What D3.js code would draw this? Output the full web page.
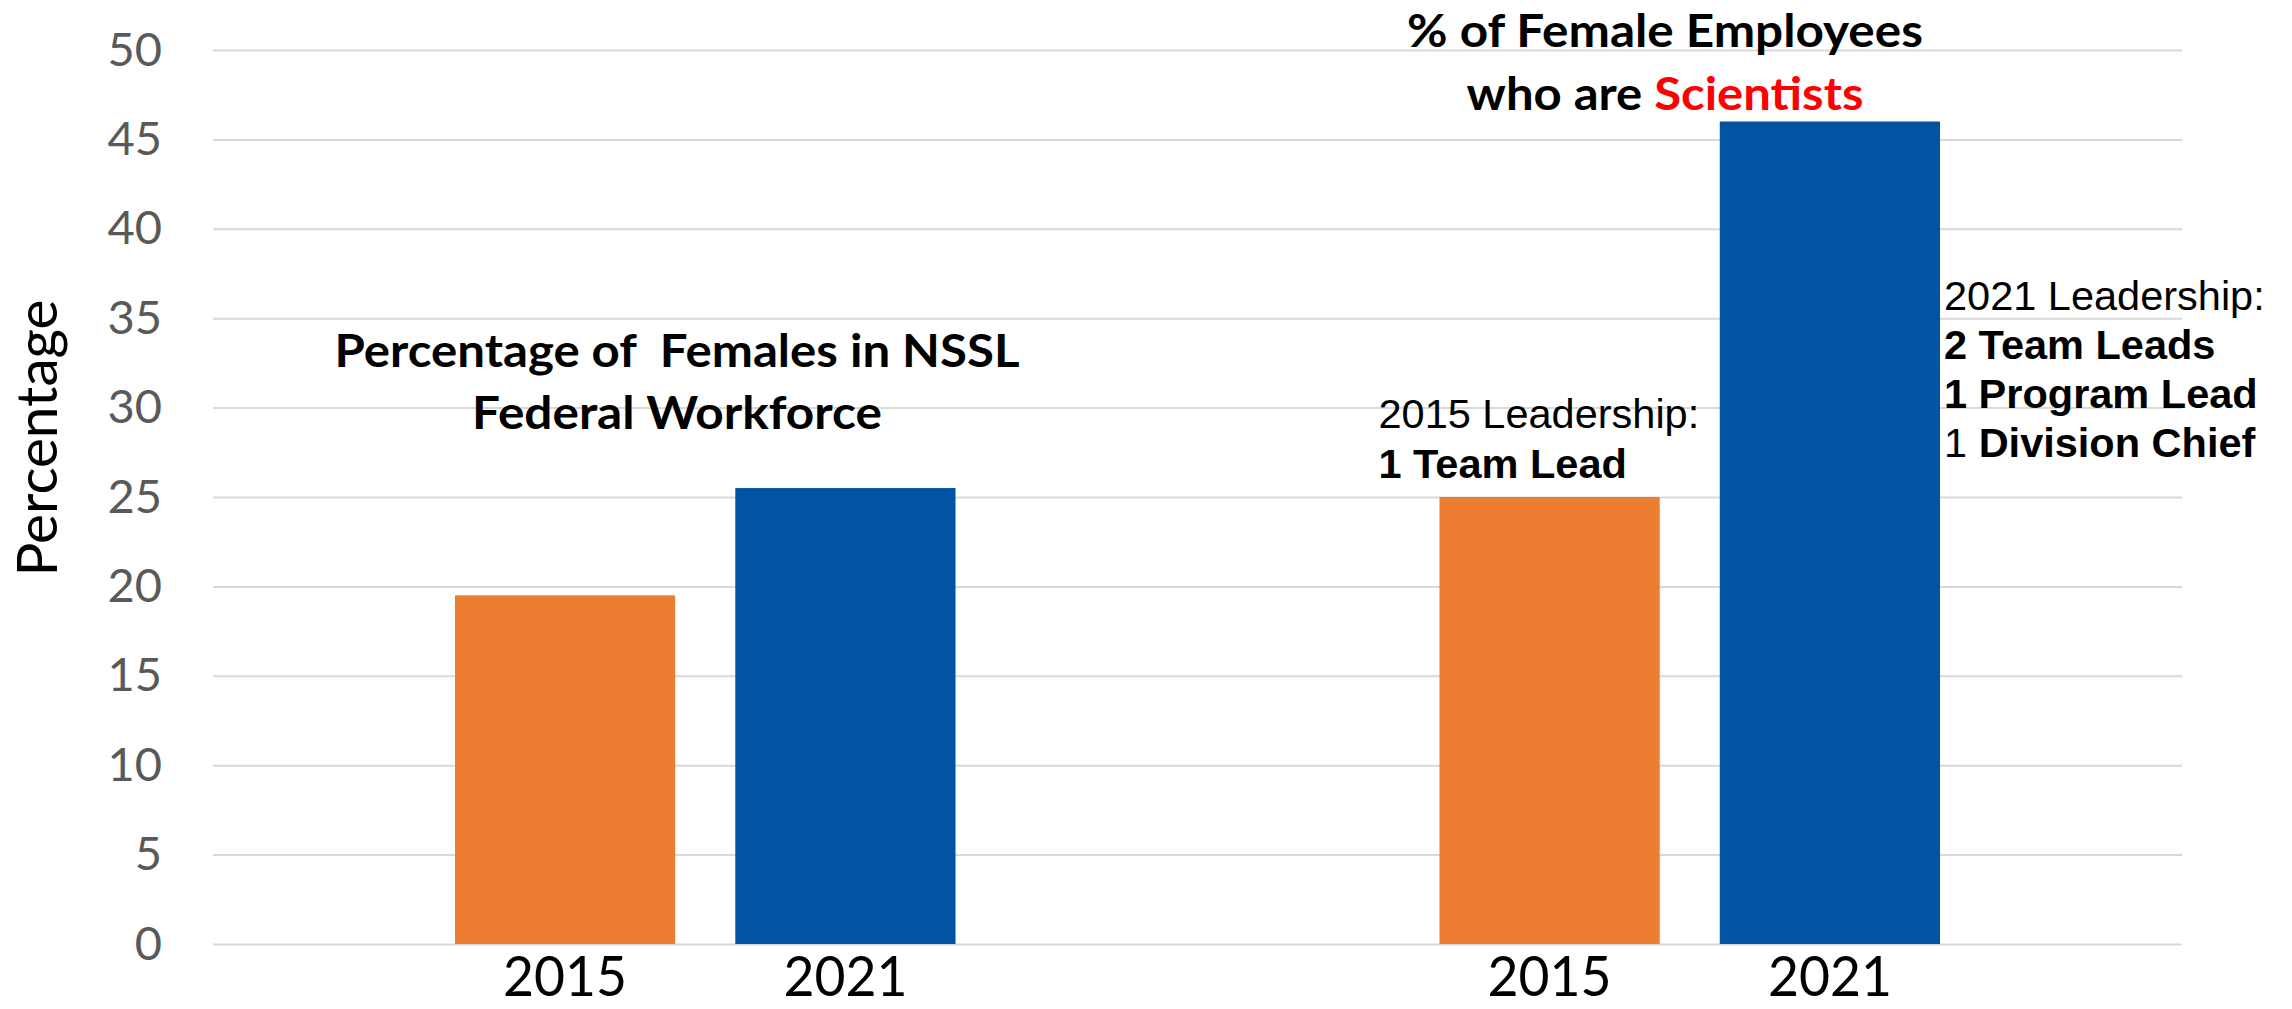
<!DOCTYPE html>
<html>
<head>
<meta charset="utf-8">
<script src="https://cdn.jsdelivr.net/npm/d3@7"></script>
<style>
body { margin: 0; background: #fff; }
</style>
</head>
<body>
<svg width="2292" height="1009"></svg>
<script>
// data
var groups = ["Federal Workforce", "Scientists"];
var years = ["2015", "2021"];
var workforce = [19.5, 25.5];
var scientists = [25, 46];
var yTicks = [0, 5, 10, 15, 20, 25, 30, 35, 40, 45, 50];
var colors = ["#ED7D31", "#0054A2"];

var lead2015 = [[{t: "2015 Leadership:", b: false}], [{t: "1 Team Lead", b: true}]];
var lead2021 = [
    [{t: "2021 Leadership:", b: false}],
    [{t: "2 Team Leads", b: true}],
    [{t: "1 Program Lead", b: true}],
    [{t: "1 ", b: false}, {t: "Division Chief", b: true}]
];

var svg = d3.select("svg");
var left = 213, right = 2182;
var font = "Lato, 'Open Sans', sans-serif";

var y = d3.scaleLinear().domain([0, 50]).range([944, 50]);
var x0 = d3.scaleBand().domain(groups).range([left, right])
    .paddingInner(0.4916).paddingOuter(0.2458);
var x1 = d3.scaleBand().domain(years).range([0, x0.bandwidth()])
    .paddingInner(0.2143);

var rows = [];
groups.forEach(function(g, i) {
    var vals = i == 0 ? workforce : scientists;
    years.forEach(function(yr, j) {
        rows.push({group: g, year: yr, value: vals[j], color: colors[j]});
    });
});

// gridlines + tick labels
var yAxis = svg.append("g")
    .attr("transform", "translate(" + left + ",0)")
    .call(d3.axisLeft(y).tickValues(yTicks).tickSize(-(right - left)).tickPadding(51));
yAxis.select(".domain").remove();
yAxis.selectAll("line").attr("stroke", "#D9D9D9").attr("stroke-width", 2);
yAxis.selectAll("text")
    .attr("fill", "#595959")
    .style("font-family", font)
    .style("font-size", "47px");

// bars
svg.append("g").selectAll("rect")
    .data(rows)
  .enter().append("rect")
    .attr("x", function(d) { return x0(d.group) + x1(d.year); })
    .attr("y", function(d) { return y(d.value); })
    .attr("width", x1.bandwidth())
    .attr("height", function(d) { return y(0) - y(d.value); })
    .attr("fill", function(d) { return d.color; });

// year labels under bars
svg.append("g").selectAll("text")
    .data(rows)
  .enter().append("text")
    .attr("x", function(d) { return x0(d.group) + x1(d.year) + x1.bandwidth() / 2; })
    .attr("y", 996)
    .attr("text-anchor", "middle")
    .attr("textLength", 124)
    .attr("lengthAdjust", "spacingAndGlyphs")
    .style("font-family", font)
    .style("font-size", "56px")
    .attr("fill", "#000")
    .text(function(d) { return d.year; });

// y axis title
svg.append("text")
    .attr("transform", "translate(57,438) rotate(-90)")
    .attr("text-anchor", "middle")
    .attr("textLength", 277)
    .attr("lengthAdjust", "spacingAndGlyphs")
    .style("font-family", font)
    .style("font-size", "56px")
    .text("Percentage");

// bold titles, squeezed to the width they take in the original
function titleLine(parts, cx, baseline, width) {
    var t = svg.append("text")
        .attr("y", baseline)
        .attr("text-anchor", "middle")
        .style("font-family", font)
        .style("font-weight", "bold")
        .style("font-size", "46px")
        .style("white-space", "pre");
    parts.forEach(function(p) {
        t.append("tspan").attr("fill", p.c || "#000").text(p.t);
    });
    var w = t.node().getComputedTextLength();
    t.attr("transform", "translate(" + cx + ",0) scale(" + (width / w) + ",1)");
}

titleLine([{t: "Percentage of  Females in NSSL"}], 677, 367, 685);
titleLine([{t: "Federal Workforce"}], 677, 429, 410);
titleLine([{t: "% of Female Employees"}], 1665, 47, 516);
titleLine([{t: "who are "}, {t: "Scientists", c: "#FF0000"}], 1665, 110, 397);

// leadership notes
function notes(lines, x, firstBaseline, step) {
    lines.forEach(function(parts, i) {
        var t = svg.append("text")
            .attr("x", x)
            .attr("y", firstBaseline + i * step)
            .style("font-family", "'Liberation Sans', Arial, sans-serif")
            .style("font-size", "41.5px")
            .style("white-space", "pre")
            .attr("fill", "#000");
        parts.forEach(function(p) {
            t.append("tspan").style("font-weight", p.b ? "bold" : "normal").text(p.t);
        });
    });
}

notes(lead2015, x0(groups[1]) + x1(years[0]) - 61, y(scientists[0]) - 69, 50);
notes(lead2021, x0(groups[1]) + x1(years[1]) + x1.bandwidth() + 4, 310, 49);
</script>
</body>
</html>
